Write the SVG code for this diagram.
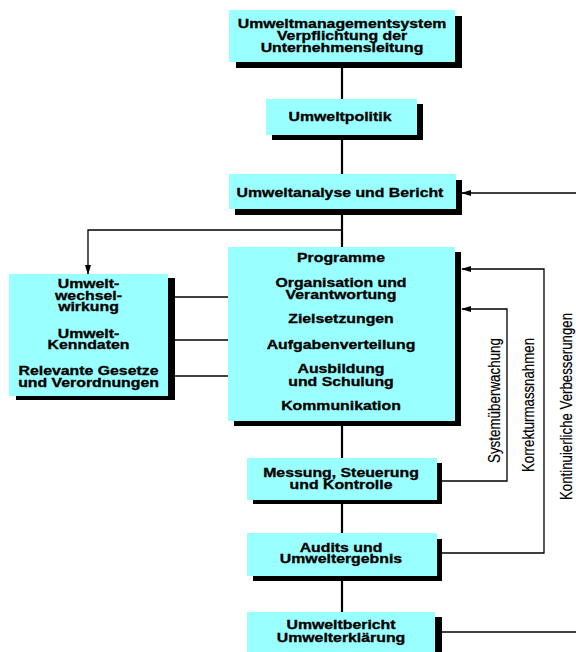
<svg xmlns="http://www.w3.org/2000/svg" width="576" height="652" viewBox="0 0 576 652">
<defs>
<style>
.box{fill:#99ffff;stroke:none}
.sh{fill:#000}
.t{font-family:"Liberation Sans",Arial,sans-serif;font-weight:bold;font-size:12px;text-anchor:middle;fill:#000;stroke:#000;stroke-width:0.3}
.v{font-family:"Liberation Sans",Arial,sans-serif;font-size:17px;text-anchor:middle;fill:#000;stroke:#000;stroke-width:0.2}
.spine{stroke:#000;stroke-width:2.2;fill:none}
.ln{stroke:#000;stroke-width:1.3;fill:none}
</style>
<marker id="ah" markerWidth="10" markerHeight="8" refX="9" refY="4" orient="auto" markerUnits="userSpaceOnUse">
<path d="M0,1 L10,4 L0,7 Z" fill="#000"/>
</marker>
</defs>
<rect width="576" height="652" fill="#fff"/>
<g id="connectors">
<line class="spine" x1="342" y1="62" x2="342" y2="612"/>
<polyline class="ln" points="342,230 88,230 88,274" marker-end="url(#ah)"/>
<line class="ln" x1="576" y1="193" x2="462" y2="193" marker-end="url(#ah)"/>
<line class="ln" x1="175" y1="297" x2="228" y2="297"/>
<line class="ln" x1="175" y1="340" x2="228" y2="340"/>
<line class="ln" x1="175" y1="376" x2="228" y2="376"/>
<polyline class="ln" points="442,481 507,481 507,309 462,309" marker-end="url(#ah)"/>
<polyline class="ln" points="442,553 544,553 544,269 462,269" marker-end="url(#ah)"/>
<line class="ln" x1="442" y1="632" x2="576" y2="632"/>
<text class="v" transform="translate(500,400.5) rotate(-90)" textLength="125" lengthAdjust="spacingAndGlyphs">Systemüberwachung</text>
<text class="v" transform="translate(534,405) rotate(-90)" textLength="134" lengthAdjust="spacingAndGlyphs">Korrekturmassnahmen</text>
<text class="v" transform="translate(572,406.5) rotate(-90)" textLength="187" lengthAdjust="spacingAndGlyphs">Kontinuierliche Verbesserungen</text>
</g>
<g id="n-ums">
<rect class="sh" x="236" y="16" width="226" height="52"/>
<rect class="box" x="229" y="10" width="226" height="52"/>
<g transform="translate(342,0) scale(1.32,1)">
<text class="t" x="0" y="28.3">Umweltmanagementsystem</text>
<text class="t" x="0" y="40.3">Verpflichtung der</text>
<text class="t" x="0" y="52.5">Unternehmensleitung</text>
</g>
</g>
<g id="n-politik">
<rect class="sh" x="272" y="104" width="151" height="36"/>
<rect class="box" x="266" y="99" width="151" height="36"/>
<g transform="translate(340,0) scale(1.32,1)">
<text class="t" x="0" y="120.7">Umweltpolitik</text>
</g>
</g>
<g id="n-analyse">
<rect class="sh" x="235" y="180" width="227" height="35"/>
<rect class="box" x="229" y="174" width="227" height="35"/>
<g transform="translate(340,0) scale(1.32,1)">
<text class="t" x="0" y="197.3">Umweltanalyse und Bericht</text>
</g>
</g>
<g id="n-umwelt">
<rect class="sh" x="16" y="278" width="159" height="122"/>
<rect class="box" x="9" y="274" width="159" height="122"/>
<g transform="translate(88.5,0) scale(1.32,1)">
<text class="t" x="0" y="288.3">Umwelt-</text>
<text class="t" x="0" y="299.8">wechsel-</text>
<text class="t" x="0" y="310.8">wirkung</text>
<text class="t" x="0" y="338">Umwelt-</text>
<text class="t" x="0" y="349.3">Kenndaten</text>
<text class="t" x="0" y="375.3">Relevante Gesetze</text>
<text class="t" x="0" y="387">und Verordnungen</text>
</g>
</g>
<g id="n-programme">
<rect class="sh" x="234" y="252" width="227" height="174"/>
<rect class="box" x="228" y="247" width="227" height="174"/>
<g transform="translate(341,0) scale(1.32,1)">
<text class="t" x="0" y="262">Programme</text>
<text class="t" x="0" y="287">Organisation und</text>
<text class="t" x="0" y="299">Verantwortung</text>
<text class="t" x="0" y="323">Zielsetzungen</text>
<text class="t" x="0" y="349">Aufgabenverteilung</text>
<text class="t" x="0" y="373.3">Ausbildung</text>
<text class="t" x="0" y="386">und Schulung</text>
<text class="t" x="0" y="410">Kommunikation</text>
</g>
</g>
<g id="n-messung">
<rect class="sh" x="253" y="463" width="189" height="41"/>
<rect class="box" x="247" y="458" width="190" height="42"/>
<g transform="translate(341,0) scale(1.32,1)">
<text class="t" x="0" y="477.3">Messung, Steuerung</text>
<text class="t" x="0" y="489.3">und Kontrolle</text>
</g>
</g>
<g id="n-audits">
<rect class="sh" x="253" y="539" width="189" height="42"/>
<rect class="box" x="247" y="533" width="190" height="43"/>
<g transform="translate(341,0) scale(1.32,1)">
<text class="t" x="0" y="552">Audits und</text>
<text class="t" x="0" y="563.5">Umweltergebnis</text>
</g>
</g>
<g id="n-bericht">
<rect class="sh" x="253" y="617" width="189" height="40"/>
<rect class="box" x="247" y="612" width="188" height="45"/>
<g transform="translate(341,0) scale(1.32,1)">
<text class="t" x="0" y="629.3">Umweltbericht</text>
<text class="t" x="0" y="641.7">Umwelterklärung</text>
</g>
</g>
</svg>
